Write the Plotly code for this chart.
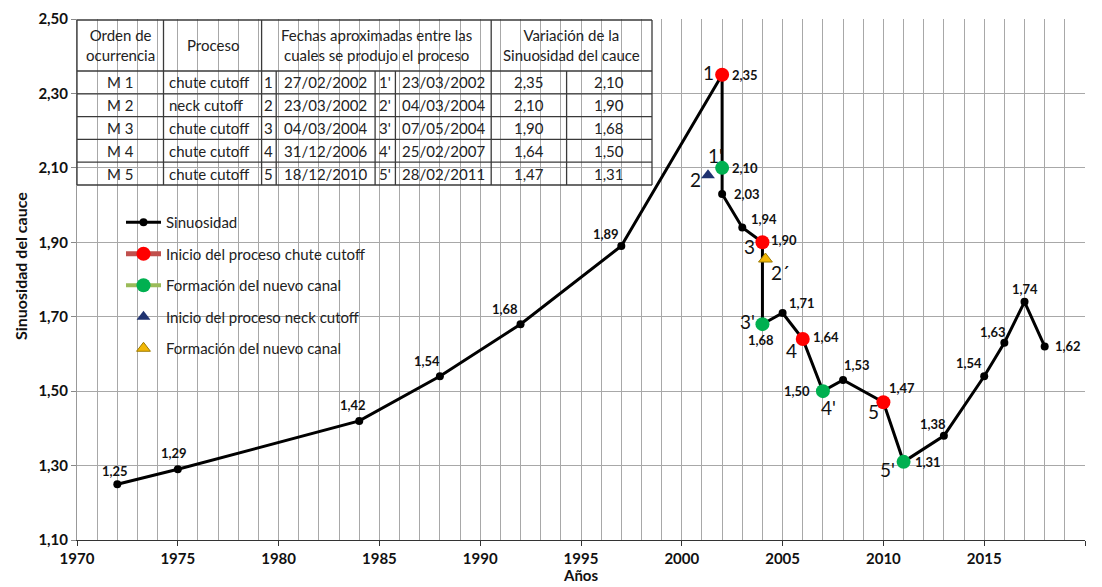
import plotly.graph_objects as go

# ---------------- data ----------------
years = [1972, 1975, 1984, 1988, 1992, 1997, 2002, 2002, 2002, 2003, 2004, 2004,
         2005, 2006, 2007, 2008, 2010, 2011, 2013, 2015, 2016, 2017, 2018]
sinuosity = [1.25, 1.29, 1.42, 1.54, 1.68, 1.89, 2.35, 2.10, 2.03, 1.94, 1.90, 1.68,
             1.71, 1.64, 1.50, 1.53, 1.47, 1.31, 1.38, 1.54, 1.63, 1.74, 1.62]

chute_years = [2002, 2004, 2006, 2010]
chute_values = [2.35, 1.90, 1.64, 1.47]
chute_names = ["1", "3", "4", "5"]

channel_years = [2002, 2004, 2007, 2011]
channel_values = [2.10, 1.68, 1.50, 1.31]
channel_names = ["1'", "3'", "4'", "5'"]

neck_years = [2001.3]
neck_values = [2.08]
neck_names = ["2"]

neck_new_years = [2004.15]
neck_new_values = [1.855]
neck_new_names = ["2´"]

x_tick_labels = ["1970", "1975", "1980", "1985", "1990", "1995", "2000", "2005", "2010", "2015", "2020"]

table_header = ["Orden de<br>ocurrencia", "Proceso",
                "Fechas aproximadas entre las<br>cuales se produjo el proceso",
                "Variación de la<br>Sinuosidad del cauce"]
table_orden = ["M 1", "M 2", "M 3", "M 4", "M 5"]
table_proceso = ["chute cutoff", "neck cutoff", "chute cutoff", "chute cutoff", "chute cutoff"]
table_id_ini = ["1", "2", "3", "4", "5"]
table_fecha_ini = ["27/02/2002", "23/03/2002", "04/03/2004", "31/12/2006", "18/12/2010"]
table_id_fin = ["1'", "2'", "3'", "4'", "5'"]
table_fecha_fin = ["23/03/2002", "04/03/2004", "07/05/2004", "25/02/2007", "28/02/2011"]
table_sin_ini = ["2,35", "2,10", "1,90", "1,64", "1,47"]
table_sin_fin = ["2,10", "1,90", "1,68", "1,50", "1,31"]

# ---------------- style / layout ----------------
FONT = "Lato"
OFF = 8  # page body margin
W, H = 1102 - OFF, 587 - OFF
# plot-area edges in page pixels
L, R, T, B = 77, 1085, 19, 540


def px_x(p):
    return (p - L) / (R - L)


def px_y(p):
    return (B - p) / (B - T)


def fmt(v):
    return f"{v:.2f}".replace(".", ",")


# value-label offsets (screen px: dx right, dy down)
value_offsets = [(-2, -13), (-4, -16), (-6, -16), (-13, -15), (-16, -15), (-15, -12),
                 (23, 0), (23, 0), (25, 0), (22, -8), (22, -2), (-1, 16),
                 (19, -10), (23, -2), (-26, 0), (14, -15), (19, -14), (24, 0),
                 (-11, -12), (-15, -13), (-11, -11), (0, -13), (23, 0)]
chute_name_off = [(-14, -2), (-13, 4), (-11, 11), (-10, 9)]
channel_name_off = [(-7, -12), (-15, -3), (6, 16), (-16, 8)]
neck_name_off = [(-13, 4)]
neck_new_name_off = [(15, 13)]

fig = go.Figure()

fig.add_trace(go.Scatter(
    x=years, y=sinuosity, mode="lines+markers", name="Sinuosidad",
    line=dict(color="black", width=3), marker=dict(color="black", size=8),
    legendgroup="a", cliponaxis=False))


def gapped(xs):
    out = []
    for i, v in enumerate(xs):
        if i:
            out.append(None)
        out.append(v)
    return out


fig.add_trace(go.Scatter(
    x=gapped(chute_years), y=gapped(chute_values), mode="lines+markers",
    name="Inicio del proceso chute cutoff", connectgaps=False,
    line=dict(color="#C0504D", width=5), marker=dict(color="#FF0000", size=14),
    legendgroup="b", cliponaxis=False))

fig.add_trace(go.Scatter(
    x=gapped(channel_years), y=gapped(channel_values), mode="lines+markers",
    name="Formación del nuevo canal", connectgaps=False,
    line=dict(color="#9BBB59", width=4), marker=dict(color="#00B050", size=14),
    legendgroup="c", cliponaxis=False))

fig.add_trace(go.Scatter(
    x=neck_years, y=neck_values, mode="markers", name="Inicio del proceso neck cutoff",
    marker=dict(color="#1F3270", size=12, symbol="triangle-up"),
    legendgroup="d", cliponaxis=False))

fig.add_trace(go.Scatter(
    x=neck_new_years, y=neck_new_values, mode="markers", name="Formación del nuevo canal",
    marker=dict(color="#F2B705", size=12, symbol="triangle-up",
                line=dict(color="#9C7A00", width=1)),
    legendgroup="e", cliponaxis=False))

annotations = []
for x, y, (dx, dy) in zip(years, sinuosity, value_offsets):
    annotations.append(dict(x=x, y=y, text=fmt(y), showarrow=False, xshift=dx, yshift=-dy,
                            font=dict(family=FONT, size=13, color="#111", weight="bold"),
                            xanchor="center", yanchor="middle"))

for xs, ys, names, offs in [(chute_years, chute_values, chute_names, chute_name_off),
                            (channel_years, channel_values, channel_names, channel_name_off),
                            (neck_years, neck_values, neck_names, neck_name_off),
                            (neck_new_years, neck_new_values, neck_new_names, neck_new_name_off)]:
    for x, y, n, (dx, dy) in zip(xs, ys, names, offs):
        annotations.append(dict(x=x, y=y, text=n, showarrow=False, xshift=dx, yshift=-dy,
                                font=dict(family=FONT, size=19, color="#111"),
                                xanchor="center", yanchor="middle"))

# axis titles
annotations.append(dict(xref="paper", yref="paper", x=px_x(20), y=px_y(266),
                        text="<b>Sinuosidad del cauce</b>", textangle=-90, showarrow=False,
                        font=dict(family=FONT, size=16, color="#111"),
                        xanchor="center", yanchor="middle"))
annotations.append(dict(xref="paper", yref="paper", x=px_x(580), y=px_y(575),
                        text="<b>Años</b>", showarrow=False,
                        font=dict(family=FONT, size=15, color="#111"),
                        xanchor="center", yanchor="middle"))

shapes = []
# ---------------- table ----------------
col_px = [77, 163.5, 261.6, 276.2, 375.1, 395.4, 491.2, 566.6, 652]
tab_top, head_bot, tab_bot = 20, 71, 185
row_h = (tab_bot - head_bot) / len(table_orden)
row_px = [head_bot + i * row_h for i in range(len(table_orden) + 1)]
line_style = dict(color="#3a3a3a", width=1.3)

shapes.append(dict(type="rect", xref="paper", yref="paper",
                   x0=px_x(col_px[0]), x1=px_x(col_px[-1]), y0=px_y(tab_top), y1=px_y(tab_bot),
                   fillcolor="white", line=dict(width=0), layer="between"))
# legend box background
shapes.append(dict(type="rect", xref="paper", yref="paper",
                   x0=px_x(119), x1=px_x(379), y0=px_y(205), y1=px_y(366),
                   fillcolor="white", line=dict(width=0), layer="between"))

for yp in [tab_top] + row_px:
    shapes.append(dict(type="line", xref="paper", yref="paper",
                       x0=px_x(col_px[0]), x1=px_x(col_px[-1]), y0=px_y(yp), y1=px_y(yp),
                       line=line_style, layer="above"))
for c in [0, 1, 2, 6, 8]:
    shapes.append(dict(type="line", xref="paper", yref="paper",
                       x0=px_x(col_px[c]), x1=px_x(col_px[c]), y0=px_y(tab_top), y1=px_y(tab_bot),
                       line=line_style, layer="above"))
for c in [3, 4, 5, 7]:
    shapes.append(dict(type="line", xref="paper", yref="paper",
                       x0=px_x(col_px[c]), x1=px_x(col_px[c]), y0=px_y(head_bot), y1=px_y(tab_bot),
                       line=line_style, layer="above"))

tfont = dict(family=FONT, size=15, color="#222")
head_spans = [(0, 1), (1, 2), (2, 6), (6, 8)]
for txt, (a, b) in zip(table_header, head_spans):
    annotations.append(dict(xref="paper", yref="paper",
                            x=px_x((col_px[a] + col_px[b]) / 2), y=px_y((tab_top + head_bot) / 2),
                            text=txt, showarrow=False, font=tfont, align="center",
                            xanchor="center", yanchor="middle"))

columns = [table_orden, table_proceso, table_id_ini, table_fecha_ini, table_id_fin,
           table_fecha_fin, table_sin_ini, table_sin_fin]
for ci, col in enumerate(columns):
    for ri, txt in enumerate(col):
        yc = px_y((row_px[ri] + row_px[ri + 1]) / 2)
        if ci == 1:
            annotations.append(dict(xref="paper", yref="paper", x=px_x(col_px[ci] + 3), y=yc,
                                    text=txt, showarrow=False, font=tfont,
                                    xanchor="left", yanchor="middle"))
        else:
            annotations.append(dict(xref="paper", yref="paper",
                                    x=px_x((col_px[ci] + col_px[ci + 1]) / 2), y=yc,
                                    text=txt, showarrow=False, font=tfont,
                                    xanchor="center", yanchor="middle"))

grid_c = "#a8a8a8"
fig.update_layout(
    width=W, height=H,
    margin=dict(l=L - OFF, r=W - (R - OFF), t=T - OFF, b=H - (B - OFF), pad=0),
    paper_bgcolor="white", plot_bgcolor="white",
    separators=",.",
    font=dict(family=FONT, color="#111"),
    showlegend=True,
    legend=dict(x=px_x(121), y=px_y(206), xanchor="left", yanchor="top",
                bgcolor="rgba(0,0,0,0)", borderwidth=0, tracegroupgap=9,
                font=dict(family=FONT, size=15, color="#222"), itemwidth=35),
    xaxis=dict(range=[1970, 2020], tickmode="array",
               tickvals=[int(t) for t in x_tick_labels], ticktext=x_tick_labels,
               ticks="outside", ticklen=5, tickcolor="#333",
               showline=True, linecolor="#333", linewidth=1.2,
               showgrid=True, gridcolor=grid_c, gridwidth=1,
               minor=dict(dtick=1, tick0=1970, showgrid=True, gridcolor=grid_c, gridwidth=1, ticks=""),
               tickfont=dict(family=FONT, size=15, color="#111", weight="bold"),
               zeroline=False, automargin=False),
    yaxis=dict(range=[1.1, 2.5], tick0=1.1, dtick=0.2, tickformat=".2f",
               ticks="outside", ticklen=5, tickcolor="#888",
               showline=True, linecolor="#999", linewidth=1,
               showgrid=True, gridcolor=grid_c, gridwidth=1,
               tickfont=dict(family=FONT, size=15, color="#111", weight="bold"),
               zeroline=False, automargin=False),
    annotations=annotations,
    shapes=shapes,
)

fig.write_html("out.html")
